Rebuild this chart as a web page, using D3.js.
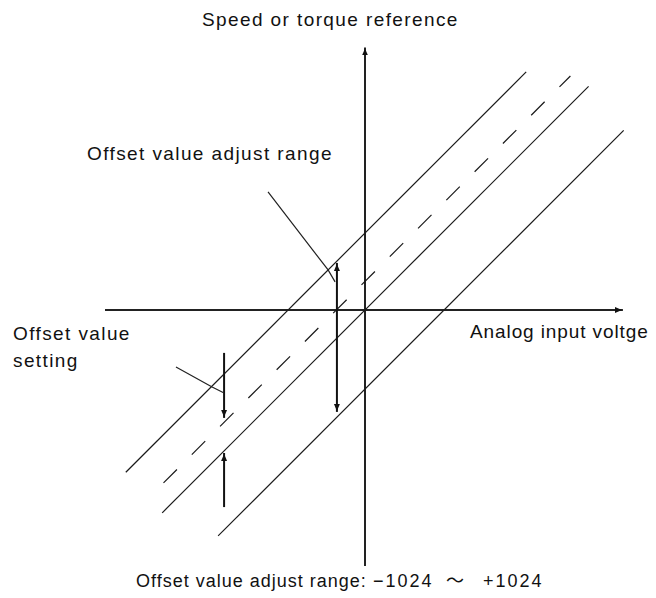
<!DOCTYPE html>
<html>
<head>
<meta charset="utf-8">
<script src="https://cdn.jsdelivr.net/npm/d3@7"></script>
<style>
  html, body { margin: 0; padding: 0; background: #fff; }
  svg { display: block; }
  text { font-family: "Liberation Sans", Arial, sans-serif; fill: #111; }
</style>
</head>
<body>
<svg id="chart" width="656" height="598"></svg>
<script>
// characteristic lines, reference = input + offset, drawn from lineStart to lineEnd
var lineNames   = ["upper", "offset", "zero", "lower"];
var lineOffsets = [2.96, 1.1, 0, -3.04];
var lineStart   = [-9.2, -7.75, -7.8, -5.65];
var lineEnd     = [6.2, 7.9, 8.6, 9.95];

// vertical arrows (input value, from reference, to reference)
var arrowX    = [-1.08, -5.42, -5.42];
var arrowFrom = [-3.92, -1.65, -7.58];
var arrowTo   = [1.81, -4.15, -5.5];

// leader lines pointing from the labels to the arrows
var leaderRange   = [[-3.73, 4.54], [-1.42, 1.54], [-1.15, 1.08]];
var leaderSetting = [[-7.27, -2.19], [-5.88, -2.96], [-5.42, -3.19]];

// axis extents
var axisXRange = [-10, 9.92];
var axisYRange = [-9.85, 10.1];

// texts
var yTitle = "Speed or torque reference";
var xTitle = "Analog input voltge";
var rangeLabel = "Offset value adjust range";
var settingLabel = ["Offset value", "setting"];
var noteLabel = "Offset value adjust range:";
var noteValues = ["\u22121024", "\uFF5E", "+1024"];

var svg = d3.select("#chart");

var x = d3.scaleLinear().domain([-10, 10]).range([105, 625]);
var y = d3.scaleLinear().domain([-10, 10]).range([570, 50]);

var defs = svg.append("defs");
defs.append("marker")
  .attr("id", "head")
  .attr("viewBox", "0 -4 8 8")
  .attr("refX", 8)
  .attr("refY", 0)
  .attr("markerWidth", 8)
  .attr("markerHeight", 8)
  .attr("markerUnits", "userSpaceOnUse")
  .attr("orient", "auto-start-reverse")
  .append("path")
  .attr("d", "M0,-3L7,0L0,3Z")
  .attr("fill", "#111");

//axes
svg.append("line")
  .attr("x1", x(axisXRange[0])).attr("y1", y(0))
  .attr("x2", x(axisXRange[1])).attr("y2", y(0))
  .attr("stroke", "#222").attr("stroke-width", 2)
  .attr("marker-end", "url(#head)");

svg.append("line")
  .attr("x1", x(0)).attr("y1", y(axisYRange[0]))
  .attr("x2", x(0)).attr("y2", y(axisYRange[1]))
  .attr("stroke", "#222").attr("stroke-width", 2)
  .attr("marker-end", "url(#head)");

//characteristic lines
var line = d3.line()
  .x(function(d){ return x(d[0]); })
  .y(function(d){ return y(d[1]); });

svg.selectAll("path.char")
  .data(lineNames)
  .enter()
  .append("path")
  .attr("class", "char")
  .attr("d", function(d, i){
    return line([
      [lineStart[i], lineStart[i] + lineOffsets[i]],
      [lineEnd[i], lineEnd[i] + lineOffsets[i]]
    ]);
  })
  .attr("fill", "none")
  .attr("stroke", "#1a1a1a")
  .attr("stroke-width", 1.2)
  .attr("stroke-dasharray", function(d){
    return d == "offset" ? "19,21" : null;
  });

//arrows
svg.selectAll("line.arrow")
  .data(arrowX)
  .enter()
  .append("line")
  .attr("class", "arrow")
  .attr("x1", function(d){ return x(d); })
  .attr("x2", function(d){ return x(d); })
  .attr("y1", function(d, i){ return y(arrowFrom[i]); })
  .attr("y2", function(d, i){ return y(arrowTo[i]); })
  .attr("stroke", "#111")
  .attr("stroke-width", 2)
  .attr("marker-end", "url(#head)")
  .attr("marker-start", function(d, i){ return i == 0 ? "url(#head)" : null; });

//leaders
[leaderRange, leaderSetting].forEach(function(pts){
  svg.append("path")
    .attr("d", line(pts))
    .attr("fill", "none")
    .attr("stroke", "#222")
    .attr("stroke-width", 1.2);
});

//labels
var big = { size: 19, spacing: 1.4 };

function label(txt, px, py, size, spacing){
  return svg.append("text")
    .attr("x", px)
    .attr("y", py)
    .style("font-size", size + "px")
    .style("letter-spacing", spacing + "px")
    .text(txt);
}

label(yTitle, 202, 26, big.size, big.spacing);
label(rangeLabel, 87, 160, big.size, big.spacing);
label(settingLabel[0], 13, 340, big.size, big.spacing);
label(settingLabel[1], 13, 367, big.size, big.spacing);
label(xTitle, 470, 338, big.size, 0.9);

label(noteLabel, 136, 587, 18, 1.0);
var noteX = [373, 446, 483];
noteValues.forEach(function(v, i){
  var t = label(v, noteX[i], 587, 18, i == 1 ? 0 : 2);
  if (i == 1) t.style("font-family", "'Noto Sans CJK JP', 'DejaVu Sans', sans-serif");
});
</script>
</body>
</html>
